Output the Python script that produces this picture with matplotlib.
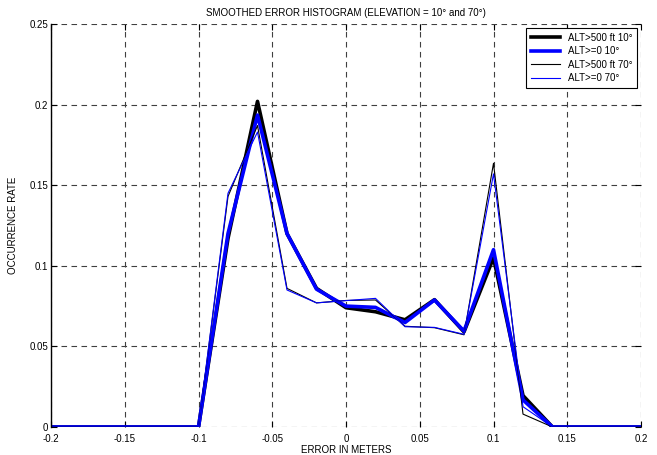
import matplotlib
matplotlib.use('Agg')
import matplotlib.pyplot as plt
import numpy as np

# error bins (m)
error_m = [-0.2, -0.18, -0.16, -0.14, -0.12, -0.1, -0.08, -0.06, -0.04, -0.02, 0.0,
           0.02, 0.04, 0.06, 0.08, 0.1, 0.12, 0.14, 0.16, 0.18, 0.2]

# occurrence rates
alt500_10 = [0, 0, 0, 0, 0, 0, 0.117, 0.202, 0.120, 0.086, 0.074,
             0.0715, 0.0665, 0.079, 0.059, 0.105, 0.0195, 0, 0, 0, 0]
alt0_10 = [0, 0, 0, 0, 0, 0, 0.120, 0.1935, 0.120, 0.0855, 0.075,
           0.0742, 0.0648, 0.0788, 0.0595, 0.110, 0.0168, 0, 0, 0, 0]
alt500_70 = [0, 0, 0, 0, 0, 0, 0.143, 0.187, 0.086, 0.077, 0.0785,
             0.0788, 0.0625, 0.0616, 0.0572, 0.1636, 0.008, 0, 0, 0, 0]
alt0_70 = [0, 0, 0, 0, 0, 0, 0.145, 0.183, 0.085, 0.077, 0.0784,
           0.0798, 0.0622, 0.0618, 0.0575, 0.157, 0.0126, 0, 0, 0, 0]

x_ticks = [-0.2, -0.15, -0.1, -0.05, 0, 0.05, 0.1, 0.15, 0.2]
y_ticks = [0, 0.05, 0.1, 0.15, 0.2, 0.25]


def main():
    plt.rcParams['font.family'] = ['Liberation Sans', 'DejaVu Sans']
    fig = plt.figure(figsize=(6.57, 4.55), dpi=100)
    ax = fig.add_axes([51 / 657, 28 / 455, 590 / 657, 403 / 455])

    ax.plot(error_m, alt500_10, color='black', lw=2.6, label='ALT>500 ft 10°')
    ax.plot(error_m, alt0_10, color='blue', lw=2.6, label='ALT>=0 10°')
    ax.plot(error_m, alt500_70, color='black', lw=0.8, label='ALT>500 ft 70°')
    ax.plot(error_m, alt0_70, color='blue', lw=0.8, label='ALT>=0 70°')

    ax.set_xlim(-0.2, 0.2)
    ax.set_ylim(0, 0.25)
    ax.set_xticks(x_ticks)
    ax.set_yticks(y_ticks)
    ax.set_xticklabels(['%g' % v for v in x_ticks])
    ax.set_yticklabels(['%g' % v for v in y_ticks])
    ax.tick_params(direction='in', length=4, labelsize=7, pad=2,
                   top=True, right=True, width=0.8)
    ax.tick_params(axis='x', pad=5)

    ax.grid(True, color='0.25', lw=0.8, linestyle=(0, (5, 4)))
    ax.set_axisbelow(True)
    for side in ['top', 'right', 'bottom']:
        ax.spines[side].set_visible(False)
    ax.spines['left'].set_linewidth(1.0)

    ax.set_title('SMOOTHED ERROR HISTOGRAM (ELEVATION = 10° and 70°)', fontsize=7, pad=6)
    ax.set_xlabel('ERROR IN METERS', fontsize=7, labelpad=1)
    ax.set_ylabel('OCCURRENCE RATE', fontsize=7, labelpad=8)

    leg = ax.legend(loc='upper right', fontsize=7, fancybox=False, framealpha=1,
                    edgecolor='black', handlelength=3.0, borderpad=0.5,
                    labelspacing=0.35, borderaxespad=0.4)
    leg.get_frame().set_linewidth(0.8)

    fig.savefig('out.png', dpi=100)


if __name__ == '__main__':
    main()
